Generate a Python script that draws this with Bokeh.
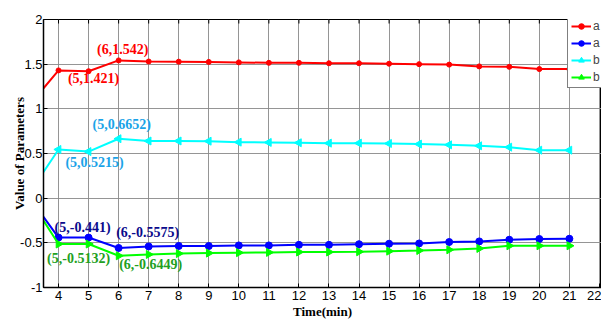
import math
from bokeh.plotting import figure
from bokeh.models import Range1d, FixedTicker, Legend, LegendItem, ColumnDataSource
from bokeh.core.properties import value
from bokeh.embed import file_html
from bokeh.resources import INLINE

# ---- data ----
time_min = [3, 4, 5, 6, 7, 8, 9, 10, 11, 12, 13, 14, 15, 16, 17, 18, 19, 20, 21]
a1 = [1.03, 1.43, 1.421, 1.542, 1.53, 1.528, 1.525, 1.52, 1.515, 1.515, 1.51, 1.51,
      1.505, 1.50, 1.495, 1.475, 1.47, 1.445, 1.445]
a2 = [0.02, -0.441, -0.441, -0.5575, -0.54, -0.535, -0.536, -0.529, -0.529, -0.522,
      -0.522, -0.515, -0.51, -0.507, -0.491, -0.484, -0.465, -0.457, -0.454]
b1 = [0.04, 0.545, 0.5215, 0.6652, 0.64, 0.64, 0.638, 0.627, 0.624, 0.62, 0.616,
      0.616, 0.612, 0.605, 0.597, 0.586, 0.571, 0.537, 0.537]
b2 = [0.01, -0.5132, -0.5132, -0.6449, -0.63, -0.62, -0.615, -0.61, -0.607, -0.603,
      -0.603, -0.6, -0.593, -0.586, -0.578, -0.563, -0.533, -0.533, -0.533]
series_names = ["a", "a", "b", "b"]
x_ticks = list(range(4, 23))
y_ticks = [-1, -0.5, 0, 0.5, 1, 1.5, 2]

# annotations: text, x of the anchored point, series it belongs to
ann_text = ["(6,1.542)", "(5,1.421)", "(5,0.6652)", "(5,0.5215)",
            "(5,-0.441)", "(6,-0.5575)", "(5,-0.5132)", "(6,-0.6449)"]
ann_at = [6, 5, 6, 5, 5, 6, 5, 6]
ann_series = ["a1", "a1", "b1", "b1", "a2", "a2", "b2", "b2"]

series = {"a1": a1, "a2": a2, "b1": b1, "b2": b2}
ann_colors = {"a1": "#FF0000", "a2": "#0A0A8C", "b1": "#1AA3E8", "b2": "#22A022"}
ann_dx = [4, 5, 3, 6, -6, 29, -10, 32]
ann_dy = [-11, 7.5, -14, 10.6, -10, -15, 14.7, 8.5]

# ---- figure ----
W, H = 601, 321
left, top, bottom = 43, 19, 34
x0 = 3.5
px_per_unit = 30.05
x1 = x0 + (W - left) / px_per_unit

p = figure(width=W, height=H, output_backend="svg", toolbar_location=None,
           x_range=Range1d(x0, x1), y_range=Range1d(-1, 2),
           min_border_left=left, min_border_right=0,
           min_border_top=top, min_border_bottom=bottom)
p.background_fill_color = "white"
p.border_fill_color = "white"
p.outline_line_color = "black"
p.outline_line_width = 1

tick_font = "Liberation Sans"
for ax in (p.xaxis[0], p.yaxis[0]):
    ax.major_tick_in = 4
    ax.major_tick_out = 0
    ax.minor_tick_line_color = None
    ax.axis_line_color = "black"
    ax.axis_line_width = 1.5
    ax.major_tick_line_color = "black"
    ax.major_label_text_font = tick_font
    ax.major_label_text_font_size = "13px"
    ax.major_label_text_color = "black"
    ax.axis_label_text_font = "Liberation Serif"
    ax.axis_label_text_font_style = "bold"
    ax.axis_label_text_font_size = "13px"
    ax.axis_label_text_color = "black"

p.xaxis.ticker = FixedTicker(ticks=x_ticks)
p.yaxis.ticker = FixedTicker(ticks=y_ticks)
p.yaxis.major_label_overrides = {-1: "-1", -0.5: "-0.5", 0: "0", 0.5: "0.5", 1: "1", 1.5: "1.5", 2: "2"}
p.xaxis.axis_label = "Time(min)"
p.yaxis.axis_label = "Value of Parameters"
p.xaxis.major_label_standoff = 3
p.xaxis.axis_label_standoff = 1
p.yaxis.major_label_standoff = 1
p.yaxis.axis_label_standoff = -10

p.xgrid.ticker = FixedTicker(ticks=x_ticks)
p.ygrid.ticker = FixedTicker(ticks=y_ticks)
p.xgrid.grid_line_color = "#8a8a8a"
p.ygrid.grid_line_color = "#8a8a8a"
p.xgrid.grid_line_alpha = 0.9
p.ygrid.grid_line_alpha = 0.9

# mirrored tick marks along the top edge of the box (half of each dash is clipped)
p.scatter(x=x_ticks, y=[max(y_ticks)] * len(x_ticks), marker="dash", angle=math.pi / 2,
          size=8, line_color="black", line_width=1)

# ---- series ----
src = ColumnDataSource(dict(t=time_min, a1=a1, a2=a2, b1=b1, b2=b2))
r_a1 = p.line("t", "a1", source=src, line_color="#FF0000", line_width=2)
m_a1 = p.scatter("t", "a1", source=src, marker="circle", size=5, color="#FF0000")
r_a2 = p.line("t", "a2", source=src, line_color="#0000FF", line_width=2)
m_a2 = p.scatter("t", "a2", source=src, marker="circle", size=7, color="#0000FF")
r_b1 = p.line("t", "b1", source=src, line_color="#00FFFF", line_width=2)
m_b1 = p.scatter("t", "b1", source=src, marker="triangle", size=8, angle=math.pi / 2, color="#00FFFF")
r_b2 = p.line("t", "b2", source=src, line_color="#00FF00", line_width=2)
m_b2 = p.scatter("t", "b2", source=src, marker="triangle", size=8, angle=-math.pi / 2, color="#00FF00")

# ---- annotations ----
ann_y = [series[s][time_min.index(t)] for s, t in zip(ann_series, ann_at)]
ann_src = ColumnDataSource(dict(x=ann_at, y=ann_y, text=ann_text,
                                color=[ann_colors[s] for s in ann_series],
                                dx=ann_dx, dy=ann_dy))
p.text("x", "y", text="text", source=ann_src, x_offset="dx", y_offset="dy",
       text_color="color", text_font=value("Liberation Serif"), text_font_style="bold",
       text_font_size="14px", text_align="center", text_baseline="middle")

# ---- legend ----
legend = Legend(items=[
    LegendItem(label=series_names[0], renderers=[r_a1, m_a1]),
    LegendItem(label=series_names[1], renderers=[r_a2, m_a2]),
    LegendItem(label=series_names[2], renderers=[r_b1, m_b1]),
    LegendItem(label=series_names[3], renderers=[r_b2, m_b2]),
], location=(567 - left, 287 - 88))
legend.border_line_color = "black"
legend.border_line_width = 1
legend.background_fill_alpha = 1
legend.label_text_font = tick_font
legend.label_text_font_size = "12px"
legend.glyph_width = 20
legend.glyph_height = 14
legend.label_height = 14
legend.spacing = 3
legend.padding = 3
legend.margin = 0
legend.label_standoff = 2
p.add_layout(legend)

open("out.html", "w").write(file_html(p, INLINE))
